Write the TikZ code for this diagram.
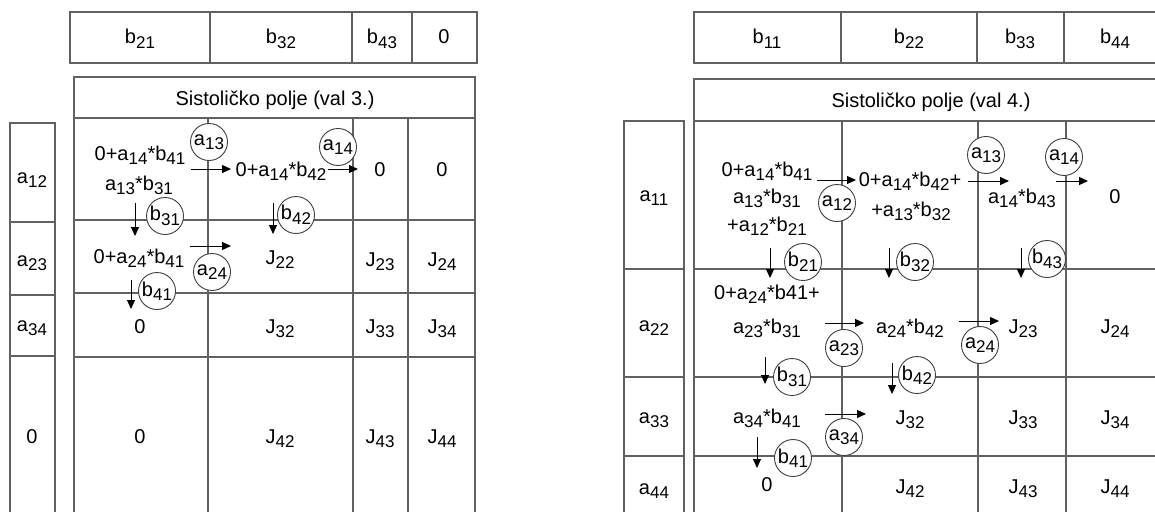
\documentclass[tikz,border=0pt]{standalone}
\usepackage{fontspec}
\setmainfont{Liberation Sans}
\usetikzlibrary{arrows.meta}
\newcommand\ix[1]{\raisebox{-4.5pt}{\fontsize{17}{17}\selectfont #1}}
\tikzset{
  gline/.style={draw=black!62, line width=1.4pt},
  arr/.style={-{Triangle[length=9pt,width=8pt]}, line width=1pt, black},
  cnode/.style={circle, draw=black!75, line width=0.9pt, fill=white, minimum size=37pt, inner sep=0pt, font=\fontsize{20}{24}\selectfont},
  txt/.style={anchor=base, inner sep=0pt, font=\fontsize{20}{24}\selectfont}
}
\begin{document}
\begin{tikzpicture}[x=1pt,y=-1pt]
\useasboundingbox (0,0) rectangle (1155,511);
\fill[white] (0,0) rectangle (1155,511);
\clip (0,0) rectangle (1155,511);

% ================= LEFT FIGURE =================
\draw[gline] (70,12) rectangle (477,63);
\foreach \x in {210,352,412} \draw[gline] (\x,12) -- (\x,63);
\draw[gline] (74,77) rectangle (475,118);
\foreach \x in {74,208,353,408,475} \draw[gline] (\x,118) -- (\x,520);
\foreach \y in {220,293,357} \draw[gline] (74,\y) -- (475,\y);
\draw[gline] (10,520) -- (10,123) -- (55,123) -- (55,520);
\foreach \y in {222,295,356} \draw[gline] (10,\y) -- (55,\y);

\node[txt] (lb1) at (140,44) {b\ix{21}};
\node[txt] (lb2) at (281,44) {b\ix{32}};
\node[txt] (lb3) at (382,44) {b\ix{43}};
\node[txt] (lb4) at (444,44) {0};
\node[txt] (lhead) at (275,105) {Sistoličko polje (val 3.)};

\node[txt] (la1) at (32,183) {a\ix{12}};
\node[txt] (la2) at (32,266) {a\ix{23}};
\node[txt] (la3) at (32,331) {a\ix{34}};
\node[txt] (la4) at (32,443) {0};

\node[txt] (l11a) at (140,160) {0+a\ix{14}*b\ix{41}};
\node[txt] (l11b) at (139,190) {a\ix{13}*b\ix{31}};
\node[txt] (l12) at (281,176) {0+a\ix{14}*b\ix{42}};
\node[txt] (l13) at (380,176) {0};
\node[txt] (l14) at (442,176) {0};
\node[txt] (l21) at (139,263) {0+a\ix{24}*b\ix{41}};
\node[txt] (l22) at (280,264) {J\ix{22}};
\node[txt] (l23) at (380,266) {J\ix{23}};
\node[txt] (l24) at (442,266) {J\ix{24}};
\node[txt] (l31) at (140,333) {0};
\node[txt] (l32) at (280,333) {J\ix{32}};
\node[txt] (l33) at (380,333) {J\ix{33}};
\node[txt] (l34) at (442,333) {J\ix{34}};
\node[txt] (l41) at (140,443) {0};
\node[txt] (l42) at (280,443) {J\ix{42}};
\node[txt] (l43) at (380,443) {J\ix{43}};
\node[txt] (l44) at (442,443) {J\ix{44}};

\node[cnode] (lca13) at (209,142) {a\ix{13}};
\node[cnode] (lca14) at (338,147) {a\ix{14}};
\node[cnode] (lcb31) at (165,216) {b\ix{31}};
\node[cnode] (lcb42) at (296,215) {b\ix{42}};
\node[cnode] (lca24) at (212,272) {a\ix{24}};
\node[cnode] (lcb41) at (157,291) {b\ix{41}};

\coordinate (lA1s) at (191,169); \coordinate (lA1e) at (231,169);
\coordinate (lA2s) at (328,169); \coordinate (lA2e) at (358,169);
\coordinate (lA3s) at (190,246); \coordinate (lA3e) at (231,246);
\coordinate (lD1s) at (135,203); \coordinate (lD1e) at (135,236);
\coordinate (lD2s) at (273,203); \coordinate (lD2e) at (273,234);
\coordinate (lD3s) at (131,280); \coordinate (lD3e) at (131,309);
\draw[arr] (lA1s) -- (lA1e);
\draw[arr] (lA2s) -- (lA2e);
\draw[arr] (lA3s) -- (lA3e);
\draw[arr] (lD1s) -- (lD1e);
\draw[arr] (lD2s) -- (lD2e);
\draw[arr] (lD3s) -- (lD3e);

% ================= RIGHT FIGURE =================
\draw[gline] (1170,12) -- (694,12) -- (694,63) -- (1170,63);
\foreach \x in {841,977,1064} \draw[gline] (\x,12) -- (\x,63);
\draw[gline] (1170,79) -- (694,79) -- (694,121) -- (1170,121);
\foreach \x in {694,842,978,1066} \draw[gline] (\x,121) -- (\x,520);
\foreach \y in {269,377,456} \draw[gline] (694,\y) -- (1170,\y);
\draw[gline] (624,520) -- (624,121) -- (684,121) -- (684,520);
\foreach \y in {269,377,456} \draw[gline] (624,\y) -- (684,\y);

\node[txt] (rb1) at (767,44) {b\ix{11}};
\node[txt] (rb2) at (909,44) {b\ix{22}};
\node[txt] (rb3) at (1020,44) {b\ix{33}};
\node[txt] (rb4) at (1115,44) {b\ix{44}};
\node[txt] (rhead) at (931,107) {Sistoličko polje (val 4.)};

\node[txt] (ra1) at (654,201) {a\ix{11}};
\node[txt] (ra2) at (654,331) {a\ix{22}};
\node[txt] (ra3) at (654,423) {a\ix{33}};
\node[txt] (ra4) at (654,494) {a\ix{44}};

\node[txt] (r11a) at (767,176) {0+a\ix{14}*b\ix{41}};
\node[txt] (r11b) at (767,203) {a\ix{13}*b\ix{31}};
\node[txt] (r11c) at (767,231) {+a\ix{12}*b\ix{21}};
\node[txt] (r12a) at (910,186) {0+a\ix{14}*b\ix{42}+};
\node[txt] (r12b) at (911,216) {+a\ix{13}*b\ix{32}};
\node[txt] (r13) at (1022,203) {a\ix{14}*b\ix{43}};
\node[txt] (r14) at (1115,203) {0};
\node[txt] (r21a) at (767,299) {0+a\ix{24}*b41+};
\node[txt] (r21b) at (767,333) {a\ix{23}*b\ix{31}};
\node[txt] (r22) at (910,333) {a\ix{24}*b\ix{42}};
\node[txt] (r23) at (1023,333) {J\ix{23}};
\node[txt] (r24) at (1115,333) {J\ix{24}};
\node[txt] (r31) at (767,423) {a\ix{34}*b\ix{41}};
\node[txt] (r32) at (910,424) {J\ix{32}};
\node[txt] (r33) at (1023,424) {J\ix{33}};
\node[txt] (r34) at (1115,424) {J\ix{34}};
\node[txt] (r41) at (767,491) {0};
\node[txt] (r42) at (910,493) {J\ix{42}};
\node[txt] (r43) at (1023,493) {J\ix{43}};
\node[txt] (r44) at (1115,493) {J\ix{44}};

\node[cnode] (rca12) at (837,203) {a\ix{12}};
\node[cnode] (rca13) at (986,155) {a\ix{13}};
\node[cnode] (rca14) at (1064,157) {a\ix{14}};
\node[cnode] (rcb21) at (803,262) {b\ix{21}};
\node[cnode] (rcb32) at (915,262) {b\ix{32}};
\node[cnode] (rcb43) at (1047,259) {b\ix{43}};
\node[cnode] (rca23) at (844,348) {a\ix{23}};
\node[cnode] (rca24) at (980,345) {a\ix{24}};
\node[cnode] (rcb31) at (792,377) {b\ix{31}};
\node[cnode] (rcb42) at (917,375) {b\ix{42}};
\node[cnode] (rca34) at (844,437) {a\ix{34}};
\node[cnode] (rcb41) at (793,458) {b\ix{41}};

\coordinate (rA1s) at (817,180); \coordinate (rA1e) at (856,180);
\coordinate (rA2s) at (968,181); \coordinate (rA2e) at (1009,181);
\coordinate (rA3s) at (1056,181); \coordinate (rA3e) at (1088,181);
\coordinate (rA4s) at (825,323); \coordinate (rA4e) at (864,323);
\coordinate (rA5s) at (959,321); \coordinate (rA5e) at (999,321);
\coordinate (rA6s) at (825,414); \coordinate (rA6e) at (866,414);
\coordinate (rD1s) at (770,248); \coordinate (rD1e) at (770,278);
\coordinate (rD2s) at (889,248); \coordinate (rD2e) at (889,278);
\coordinate (rD3s) at (1021,248); \coordinate (rD3e) at (1021,278);
\coordinate (rD4s) at (765,357); \coordinate (rD4e) at (765,384);
\coordinate (rD5s) at (892,363); \coordinate (rD5e) at (892,394);
\coordinate (rD6s) at (757,437); \coordinate (rD6e) at (757,468);
\foreach \n in {A1,A2,A3,A4,A5,A6,D1,D2,D3,D4,D5,D6}
  \draw[arr] (r\n s) -- (r\n e);
\end{tikzpicture}
\end{document}
